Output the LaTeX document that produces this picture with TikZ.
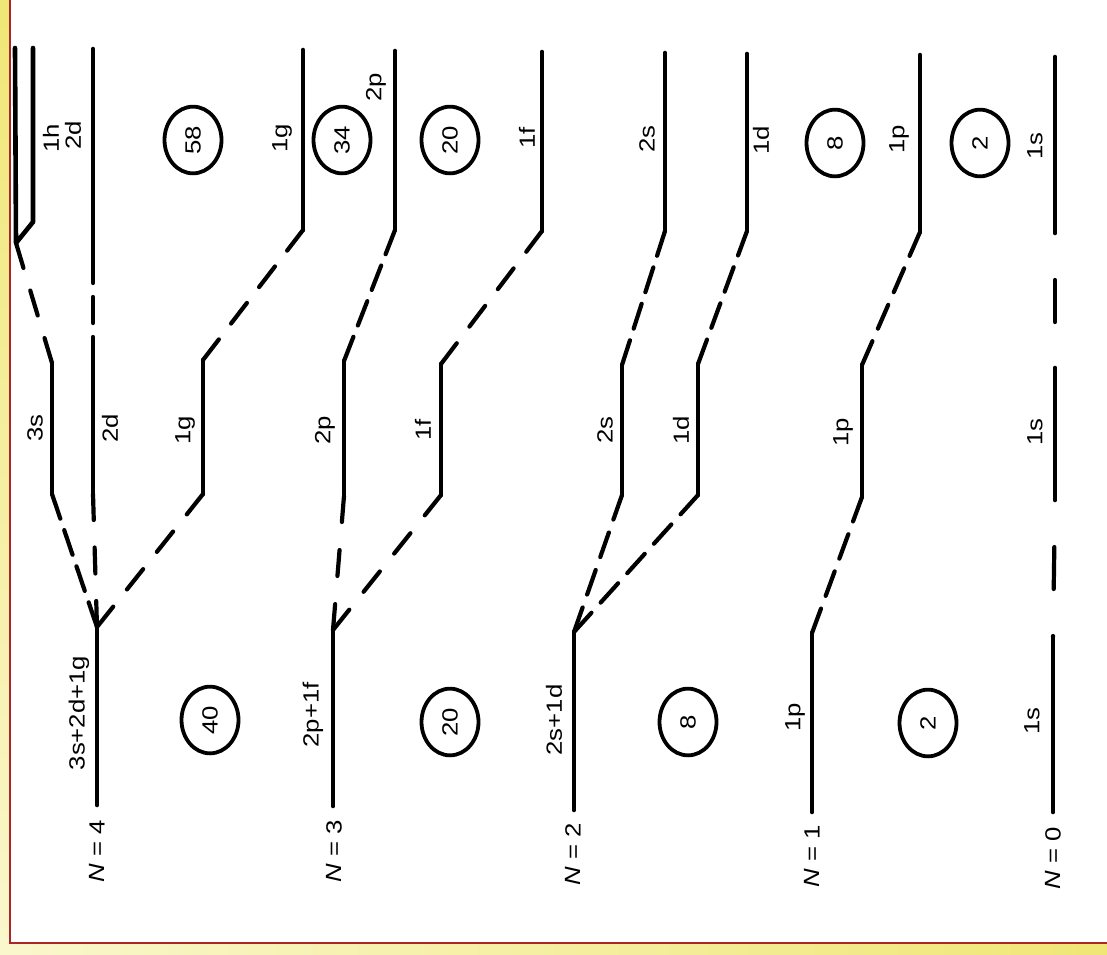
\documentclass[tikz,border=0pt]{standalone}
\usepackage{fontspec}
\setmainfont{Liberation Sans}
\usepackage{tikz}
\usetikzlibrary{calc}
\definecolor{FRred}{RGB}{172,38,38}
\definecolor{FRyel}{RGB}{240,230,118}
\definecolor{FRpale}{RGB}{250,247,205}
\tikzstyle{Blvl}   = [line width=4.6pt, line cap=round, line join=round]
\tikzstyle{Bdash}  = [line width=4.2pt, line cap=round]
\tikzstyle{Bgap}   = [Bdash, dash pattern=on 42pt off 47pt, dash phase=42pt]
\tikzstyle{Btxt}   = [rotate=90, xscale=1.17, inner sep=0pt,
                      font=\fontsize{22}{26}\selectfont]
\tikzstyle{Bmagic} = [Btxt, circle, draw, line width=3.8pt, minimum size=57pt]
% dashed link with a dash at both ends
\newcommand\shelllink[2]{%
  \path let \p1=($(#2)-(#1)$) in \pgfextra{%
    \pgfmathsetmacro\shlen{veclen(\x1,\y1)}%
    \pgfmathsetmacro\shnum{max(2,round((\shlen+19)/45))}%
    \pgfmathsetmacro\shoff{(\shlen-26*\shnum)/(\shnum-1)}%
    \xdef\shoffg{\shoff}};
  \draw[Bdash, dash pattern=on 26pt off \shoffg pt] (#1) -- (#2);}

\begin{document}
\begin{tikzpicture}[x=1pt, y=-1pt]
  \useasboundingbox (0,0) rectangle (1107,954);
  \shade[top color=FRyel, bottom color=FRpale] (0,0) rectangle (11,954);
  \shade[left color=FRpale, right color=FRyel] (0,942) rectangle (1107,954);
  \fill[white] (10,-5) rectangle (1115,943);
  \draw[FRred, line width=2pt] (10,-5) -- (10,943) -- (1115,943);

  % levels: name / x / upper end / lower end
  \foreach \nm/\x/\ya/\yb in {r2d/93/49/257, r1g/303/50/230, r2p/395/51/230,
      r1f/542/52/231, r2s/665/53/231, r1d/747/54/231, r1p/920/55/232,
      r1s/1055/57/233,
      m3s/52/363/494, m2d/93/363/494, m1g/203/360/494, m2p/344/361/496,
      m1f/441/364/495, m2s/622/365/495, m1d/698/364/495, m1p/862/365/497,
      m1s/1055/368/500,
      n4/97/627/805, n3/333/630/806, n2/574/632/810, n1/812/633/812,
      n0/1053/637/812}{
    \coordinate (\nm-a) at (\x,\ya);
    \coordinate (\nm-b) at (\x,\yb);
    \draw[Blvl] (\nm-a) -- (\nm-b);
  }
  \coordinate (r3s-a) at (15,48);
  \coordinate (r3s-b) at (16,243);
  \coordinate (r1h-a) at (33,48);
  \coordinate (r1h-b) at (33,222);
  \draw[Blvl] (r3s-a) -- (r3s-b) -- (r1h-b) -- (r1h-a);

  \foreach \ua/\ub in {r3s-b/m3s-a, r2d-b/m2d-a, r1g-b/m1g-a, r2p-b/m2p-a,
      r1f-b/m1f-a, r2s-b/m2s-a, r1d-b/m1d-a, r1p-b/m1p-a,
      n4-a/m3s-b, n4-a/m2d-b, n4-a/m1g-b, n3-a/m2p-b, n3-a/m1f-b,
      n2-a/m2s-b, n2-a/m1d-b, n1-a/m1p-b}
    \shelllink{\ua}{\ub};
  \draw[Bgap] (r1s-b) -- (m1s-a);
  \draw[Bgap] (m1s-b) -- (n0-a);

  % oscillator shells
  \node[Btxt] (N4) at (97,851)  {\textit{N} = 4};
  \node[Btxt] (N3) at (334,851) {\textit{N} = 3};
  \node[Btxt] (N2) at (573,854) {\textit{N} = 2};
  \node[Btxt] (N1) at (812,856) {\textit{N} = 1};
  \node[Btxt] (N0) at (1053,858) {\textit{N} = 0};
  \node[Btxt] (sum4) at (79,713)   {3s+2d+1g};
  \node[Btxt] (sum3) at (313,715)  {2p+1f};
  \node[Btxt] (sum2) at (554,720)  {2s+1d};
  \node[Btxt] (sum1) at (795,717)  {1p};
  \node[Btxt] (sum0) at (1032,721) {1s};
  \node[Bmagic] (c40) at (210,720) {40};
  \node[Bmagic] (c20) at (450,722) {20};
  \node[Bmagic] (c8)  at (688,722) {8};
  \node[Bmagic] (c2)  at (928,723) {2};

  % middle column
  \node[Btxt] (m3s) at (35,428)   {3s};
  \node[Btxt] (m2d) at (110,428)  {2d};
  \node[Btxt] (m1g) at (185,430)  {1g};
  \node[Btxt] (m2p) at (325,430)  {2p};
  \node[Btxt] (m1f) at (423,430)  {1f};
  \node[Btxt] (m2s) at (605,430)  {2s};
  \node[Btxt] (m1d) at (681,430)  {1d};
  \node[Btxt] (m1p) at (843,432)  {1p};
  \node[Btxt] (m1s) at (1035,432) {1s};

  % right column
  \node[Btxt] (r1h) at (51,138)   {1h};
  \node[Btxt] (r2d) at (73,135)   {2d};
  \node[Btxt] (r1g) at (282,138)  {1g};
  \node[Btxt] (r2p) at (376,87)   {2p};
  \node[Btxt] (r1f) at (527,138)  {1f};
  \node[Btxt] (r2s) at (647,139)  {2s};
  \node[Btxt] (r1d) at (761,140)  {1d};
  \node[Btxt] (r1p) at (899,139)  {1p};
  \node[Btxt] (r1s) at (1035,146) {1s};
  \node[Bmagic] (c58)  at (193,140) {58};
  \node[Bmagic] (c34)  at (342,140) {34};
  \node[Bmagic] (c20u) at (450,140) {20};
  \node[Bmagic] (c8u)  at (835,143) {8};
  \node[Bmagic] (c2u)  at (980,143) {2};
\end{tikzpicture}
\end{document}
